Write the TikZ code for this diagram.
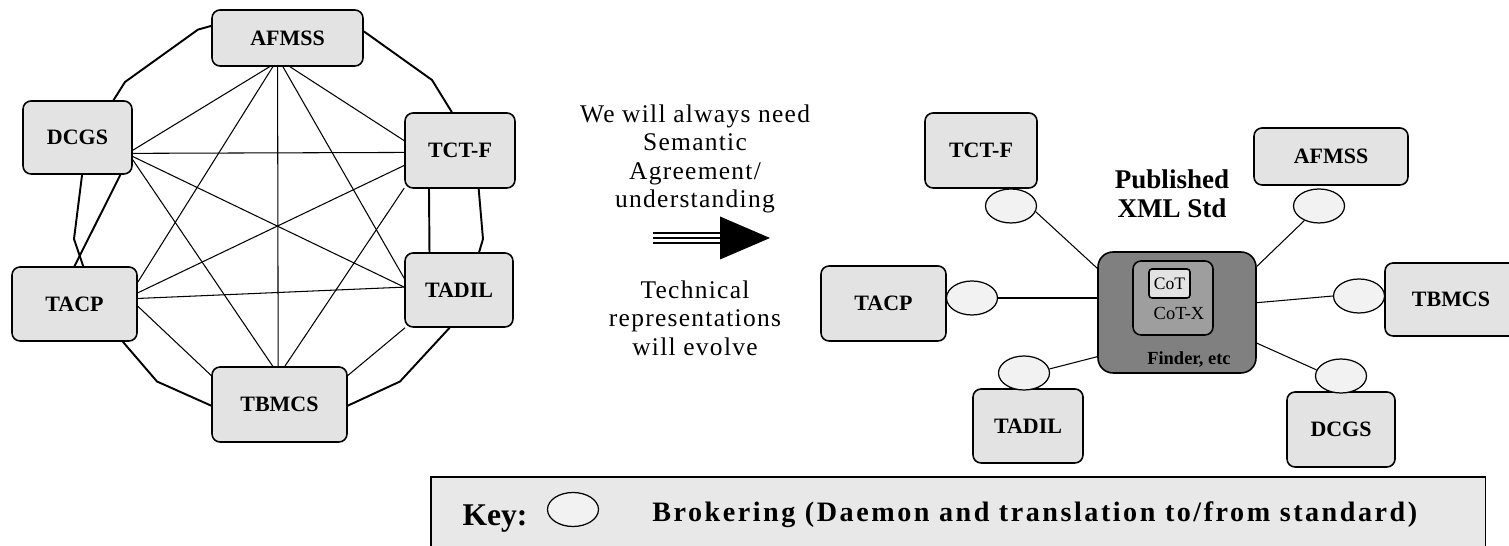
\documentclass[tikz,border=0pt]{standalone}
\usepackage{fontspec}
\setmainfont{Liberation Serif}
\newfontfamily\spacedfont[LetterSpace=5]{Liberation Serif}
\newfontfamily\keyfont[LetterSpace=9]{Liberation Serif}
\usetikzlibrary{arrows.meta, positioning, shapes.geometric}
\definecolor{boxgray}{RGB}{227,227,227}
\definecolor{brkgray}{RGB}{242,242,242}
\definecolor{hubgray}{RGB}{128,128,128}
\definecolor{cotxgray}{RGB}{158,158,158}
\definecolor{keygray}{RGB}{232,232,232}

\begin{document}
\begin{tikzpicture}[
        x=0.02cm, y=-0.02cm, on grid,
        sys/.style={draw, line width=0.9pt, rounded corners=0.16cm, fill=boxgray, inner sep=0pt,
          font=\bfseries\fontsize{12.5}{14}\selectfont},
        brk/.style={ellipse, draw, line width=0.7pt, fill=brkgray, inner sep=0pt,
          minimum width=1.02cm, minimum height=0.68cm},
        chord/.style={line width=0.6pt}, ring/.style={line width=1.1pt},
        link/.style={line width=0.6pt},
        talk/.style={font=\spacedfont\fontsize{14.5}{16.3}\selectfont, align=center, anchor=north, inner sep=0pt},
        ]
        \useasboundingbox (0,0) rectangle (1509,546);

        \node[sys, minimum width=3.02cm, minimum height=1.12cm] (afmssL) at (287.5,38)    {AFMSS};
        \node[sys, minimum width=2.18cm, minimum height=1.46cm] (dcgsL)  at (77.5,137.5)  {DCGS};
        \node[sys, minimum width=2.2cm,  minimum height=1.5cm]  (tctfL)  at (460,150.5)   {TCT-F};
        \node[sys, minimum width=2.5cm,  minimum height=1.48cm] (tacpL)  at (74.5,304)    {TACP};
        \node[sys, minimum width=2.16cm, minimum height=1.48cm] (tadilL) at (459,290)     {TADIL};
        \node[sys, minimum width=2.7cm,  minimum height=1.5cm]  (tbmcsL) at (279.5,404.5) {TBMCS};
        \path[chord] (afmssL.238) edge (dcgsL.-13)
        (afmssL.243) edge (tacpL.19)
        (afmssL.251) edge (tbmcsL.92)
        (afmssL.261) edge (tadilL.168.5)
        (afmssL.275) edge (tctfL.170)
        (dcgsL.-16) edge (tctfL.182.6)
        (dcgsL.-19) edge (tadilL.177)
        (dcgsL.-22) edge (tbmcsL.100)
        (tctfL.195) edge (tacpL.10)
        (tctfL.214) edge (tbmcsL.82)
        (tacpL.5.5) edge (tadilL.177)
        (tacpL.-2.4) edge (tbmcsL.157)
        (tadilL.215) edge (tbmcsL.23);
        \path[ring] (dcgsL.-41) edge (tacpL.north)
        (tctfL.231) edge (tadilL.128);
        \draw[ring] (afmssL.171) -- (198,29.6) -- (125,82) -- (dcgsL.46);
        \draw[ring] (afmssL.5) -- (432,80) -- (tctfL.102);
        \draw[ring] (dcgsL.-83) -- (74,239) -- (tacpL.77);
        \draw[ring] (tctfL.-64) -- (483,239) -- (tadilL.62);
        \draw[ring] (tacpL.-38) -- (157,381.5) -- (tbmcsL.181);
        \draw[ring] (tadilL.256) -- (400,381.5) -- (tbmcsL.-1);

        \node[talk] (need)   at (695,104) {We will always need\\Semantic\\Agreement/\\understanding};
        \node[talk] (evolve) at (695,280) {Technical\\representations\\will evolve};
        \coordinate (arrL) at (653,238);
        \coordinate (arrM) at (720,238);
        \coordinate (arrT) at (770,238);
        \draw[line width=0.25cm] (arrL) -- (arrM);
        \draw[white, line width=0.05cm] ([yshift=0.05cm]arrL) -- ([yshift=0.05cm]arrM);
        \draw[white, line width=0.05cm] ([yshift=-0.05cm]arrL) -- ([yshift=-0.05cm]arrM);
        \fill ([yshift=0.43cm]arrM) -- (arrT) -- ([yshift=-0.43cm]arrM) -- cycle;

        \node[sys, fill=hubgray, rounded corners=0.3cm, minimum width=3.16cm, minimum height=2.42cm] (hub) at (1177,312.5) {};
        \node[draw, line width=0.9pt, fill=cotxgray, rounded corners=0.16cm, minimum width=1.6cm, minimum height=1.48cm] (cotx) at (1173,298) {};
        \node[draw, line width=0.9pt, fill=boxgray, rounded corners=0.06cm, minimum width=0.82cm, minimum height=0.58cm,
          inner sep=0pt, font=\fontsize{10}{12}\selectfont] (cot) at (1169.5,283.5) {CoT};
        \node[font=\fontsize{10.5}{12}\selectfont] (cotxlabel) at (1179,313) {CoT-X};
        \node[font=\bfseries\fontsize{10.5}{12}\selectfont, anchor=base, inner sep=0pt] (finder) at (1189,365) {Finder, etc};
        \node[font=\bfseries\fontsize{15.4}{16.5}\selectfont, align=center, anchor=north, inner sep=0pt] (pub) at (1172,169) {Published\\XML Std};

        \node[sys, minimum width=2.24cm, minimum height=1.5cm]  (tctfR)  at (981,150.5)  {TCT-F};
        \node[sys, minimum width=3.08cm, minimum height=1.14cm] (afmssR) at (1331,156.5) {AFMSS};
        \node[sys, minimum width=2.5cm,  minimum height=1.5cm]  (tacpR)  at (883.5,303.5) {TACP};
        \node[sys, minimum width=2.64cm, minimum height=1.46cm] (tbmcsR) at (1451,299.5) {TBMCS};
        \node[sys, minimum width=2.2cm,  minimum height=1.48cm] (tadilR) at (1028,426)   {TADIL};
        \node[sys, minimum width=2.16cm, minimum height=1.5cm]  (dcgsR)  at (1341,429.5) {DCGS};
        \node[brk] (eTCTF)  [below right=1.11cm and 0.6cm of tctfR]   {};
        \node[brk] (eAFMSS) [below left=0.99cm and 0.24cm of afmssR]  {};
        \node[brk] (eTACP)  [above right=0.11cm and 1.77cm of tacpR]  {};
        \node[brk] (eTBMCS) [above left=0.07cm and 1.84cm of tbmcsR]  {};
        \node[brk] (eTADIL) [above left=1.06cm and 0.08cm of tadilR]  {};
        \node[brk] (eDCGS)  [above=1.07cm of dcgsR]                   {};
        \path[link] (eTCTF.-13) edge (hub.151)
        (eAFMSS.225) edge (hub.30)
        (eTACP.east) edge (eTACP.east -| hub.west)
        (eTBMCS.west) edge (hub.7)
        (eTADIL.9) edge (hub.209)
        (eDCGS.166) edge (hub.-21);

        \node[draw, line width=0.9pt, fill=keygray, anchor=north west, minimum width=21.1cm, minimum height=2cm, inner sep=0pt] (key) at (430,476) {};
        \node[font=\bfseries\fontsize{18}{20}\selectfont, anchor=base, inner sep=0pt] (keylabel) at (495,526) {Key:};
        \node[brk] (eKey) at (573,509.5) {};
        \node[font=\keyfont\bfseries\fontsize{16}{18}\selectfont, anchor=base west, inner sep=0pt] (keytext) at (652,522)
          {Brokering (Daemon and translation to/from standard)};
      \end{tikzpicture}
\end{document}
